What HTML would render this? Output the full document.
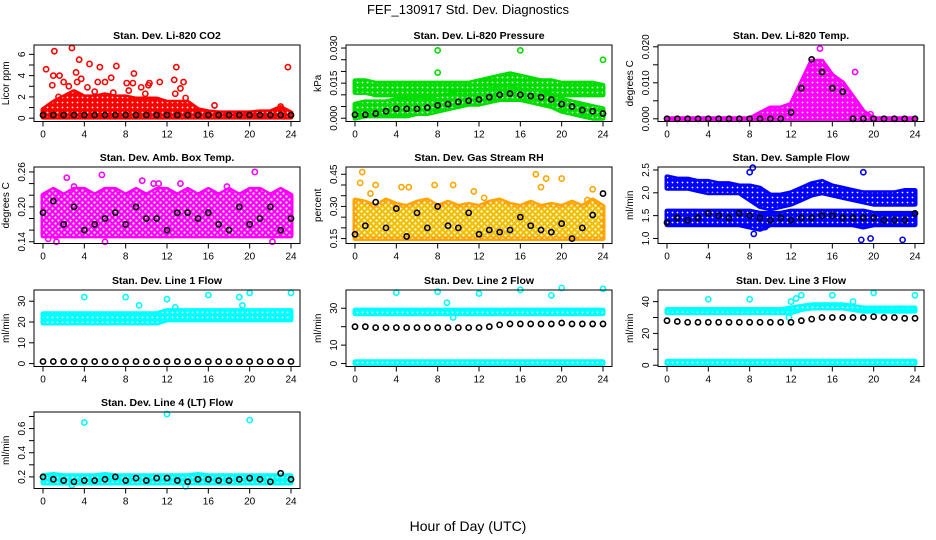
<!DOCTYPE html>
<html><head><meta charset="utf-8"><style>
html,body{margin:0;padding:0;background:#fff;}
svg{display:block;font-family:"Liberation Sans",sans-serif;}
</style></head><body>
<svg id="c" width="936" height="540" viewBox="0 0 936 540">
<defs>
<pattern id="speck" width="5" height="5" patternUnits="userSpaceOnUse"><circle cx="2.5" cy="2.5" r="0.9" fill="#fff"/></pattern>
<pattern id="speck2" width="6" height="6" patternUnits="userSpaceOnUse"><circle cx="1.5" cy="1.5" r="1.1" fill="#fff"/><circle cx="4.5" cy="4.5" r="1.1" fill="#fff"/></pattern>
</defs>
<text x="468" y="14" text-anchor="middle" font-size="13">FEF_130917  Std. Dev. Diagnostics</text>
<text x="468" y="531" text-anchor="middle" font-size="14">Hour of Day (UTC)</text>
</svg>
<script>
const hours=[0,1,2,3,4,5,6,7,8,9,10,11,12,13,14,15,16,17,18,19,20,21,22,23,24];
const xTicks=[0,4,8,12,16,20,24];
// Panel 1 CO2
const co2Lo=[0.1,0.1,0.1,0.1,0.1,0.1,0.1,0.1,0.1,0.1,0.1,0.1,0.1,0.1,0.1,0.1,0.1,0.1,0.1,0.1,0.1,0.1,0.1,0.1,0.1];
const co2Hi=[0.8,1.5,2,2.5,2,2,2.2,2,2,1.8,1.8,1.8,1.5,1.5,1.5,0.8,0.6,0.5,0.5,0.5,0.5,0.6,0.6,1,0.5];
const co2Black=[0.3,0.3,0.3,0.3,0.3,0.3,0.3,0.3,0.3,0.3,0.3,0.3,0.3,0.3,0.3,0.3,0.3,0.3,0.3,0.3,0.3,0.3,0.3,0.3,0.3];
const co2OutX=[0.3,0.9,1,1.1,1.5,1.6,2,2.5,2.8,3.2,3.3,3.5,3.7,4.5,4.3,5,5.3,5.5,6,6.6,7.1,6.8,8.1,8.3,8.8,8.7,9.5,9.9,10.3,10.2,11.3,12.7,12.9,12.8,13.3,13.6,13.8,16.6,23,23.7];
const co2OutY=[4.6,3.1,4,6.3,2,4,3.4,3,6.6,4.3,3.4,5.5,3.7,5.1,2.9,2.5,3.4,4.8,3.4,3.8,4.9,2.4,3.3,2.6,4.2,3.3,2.9,2.3,3.3,3.1,3.4,3.6,4.8,2.3,2.8,3.4,1.9,1.2,1.1,4.8];
// Panel 2 pressure
const prUpLo=[.011,.011,.010,.010,.010,.010,.010,.010,.010,.010,.010,.010,.010,.011,.011,.012,.012,.011,.011,.010,.010,.010,.010,.010,.010];
const prUpHi=[.016,.016,.015,.015,.015,.015,.015,.015,.015,.015,.015,.015,.016,.017,.018,.019,.018,.017,.016,.016,.015,.015,.015,.015,.014];
const prLoLo=[.000,.001,.001,.001,.001,.001,.002,.002,.003,.004,.005,.006,.006,.007,.008,.008,.008,.007,.006,.005,.003,.002,.001,.000,.000];
const prLoHi=[.006,.007,.007,.007,.008,.008,.008,.008,.009,.010,.011,.011,.012,.012,.013,.013,.012,.012,.011,.010,.008,.007,.006,.005,.004];
const prBlack=[.0015,.0015,.002,.003,.004,.004,.004,.0045,.0055,.006,.007,.0075,.008,.009,.010,.0105,.010,.0095,.009,.008,.006,.005,.0035,.003,.002];
const prOutX=[8,8,16,24];
const prOutY=[.029,.0195,.029,.025];
// Panel 3 temp
const tpLo=[0,0,0,0,0,0,0,0,0,0,0,0,0,0,0,0,0,0,0,0,0,0,0,0,0];
const tpHi=[0,0,0,0,0,0,0,0,0,0.0015,0.003,0.003,0.004,0.010,0.016,0.016,0.012,0.010,0.006,0.002,0,0,0,0,0];
const tpBlack=[0,0,0,0,0,0,0,0,0,0,0,0,0.0018,0.0085,0.0165,0.013,0.0085,0.0075,0,0,0,0,0,0,0];
const tpOutX=[14.8,18.2,16.5,19.7];
const tpOutY=[.0195,.013,0,.0013];
// Panel 4 amb box temp
const abLo=[.15,.15,.15,.15,.15,.15,.15,.15,.15,.15,.15,.15,.15,.15,.15,.15,.15,.15,.15,.15,.15,.15,.15,.15,.15];
const abHi=[.22,.23,.22,.23,.23,.22,.23,.23,.22,.23,.22,.23,.23,.22,.23,.22,.23,.22,.23,.22,.23,.23,.22,.23,.22];
const abBlack=[.19,.21,.17,.20,.16,.17,.18,.19,.17,.20,.18,.18,.16,.19,.19,.18,.19,.17,.16,.20,.17,.18,.20,.16,.18];
const abOutX=[2.3,5.7,3,9.6,10.7,11.2,13.3,20.5,17.8,1.2,1.3,6,0.5,22.2];
const abOutY=[.25,.255,.235,.245,.24,.24,.24,.26,.235,.15,.14,.14,.145,.14];
// Panel 5 RH
const rhLo=[.15,.15,.15,.15,.15,.15,.15,.15,.15,.15,.15,.15,.15,.15,.15,.15,.15,.15,.15,.15,.15,.15,.15,.15,.15];
const rhHi=[.33,.32,.30,.33,.31,.30,.32,.33,.30,.32,.30,.31,.30,.32,.33,.31,.30,.32,.30,.31,.30,.32,.30,.33,.30];
const rhBlack=[.17,.21,.32,.2,.29,.16,.27,.2,.30,.21,.2,.27,.17,.19,.18,.19,.25,.21,.19,.18,.22,.15,.20,.26,.36];
const rhOutX=[0.5,0.7,1.5,2,4.5,5.2,7.7,9.5,11.5,12.5,17.5,18.5,18,20,22.5,23];
const rhOutY=[.41,.46,.36,.40,.39,.39,.40,.40,.37,.34,.45,.43,.39,.43,.33,.38];
// Panel 6 sample flow
const sfUpLo=[2.1,2.1,2.1,2.05,2.0,2.0,2.0,2.0,1.85,1.7,1.65,1.7,1.75,1.85,1.95,2.0,1.95,1.9,1.85,1.8,1.75,1.75,1.75,1.75,1.75];
const sfUpHi=[2.35,2.3,2.3,2.25,2.25,2.2,2.2,2.15,2.15,2.1,1.95,1.95,2.0,2.1,2.2,2.25,2.15,2.1,2.05,2.0,2.0,2.0,2.0,2.05,2.05];
const sfLoLo=[1.3,1.3,1.3,1.3,1.3,1.3,1.3,1.3,1.25,1.2,1.3,1.3,1.3,1.3,1.3,1.3,1.3,1.3,1.3,1.25,1.3,1.3,1.3,1.3,1.3];
const sfLoHi=[1.6,1.6,1.6,1.6,1.6,1.6,1.6,1.6,1.6,1.55,1.55,1.55,1.6,1.6,1.6,1.6,1.6,1.6,1.6,1.6,1.55,1.55,1.55,1.55,1.55];
const sfBlack=[1.35,1.45,1.4,1.45,1.55,1.5,1.45,1.55,1.5,1.45,1.4,1.45,1.4,1.45,1.45,1.5,1.5,1.45,1.45,1.45,1.45,1.4,1.4,1.4,1.55];
const sfOutX=[8.3,8,8.4,19,18.8,19.7,22.8,9.5];
const sfOutY=[2.55,2.45,1.1,2.45,0.97,1.0,0.97,1.25];
// Panel 7 line 1
const l1Lo=[19.5,19.5,19.5,19.5,19.5,19.5,19.5,19.5,19.5,19.5,19.5,19.5,21,21,21,21,21,21,21,21,21,21,21,21,21];
const l1Hi=[24,24,24,24,24,24,24,24,24,24,24,24,25.5,25.5,25.5,25.5,25.5,25.5,25.5,25.5,25.5,25.5,25.5,25.5,25.5];
const l1Black=[1,1,1,1,1,1,1,1,1,1,1,1,1,1,1,1,1,1,1,1,1,1,1,1,1];
const l1OutX=[4,8,12,16,19,20,24,9.3,19.3,12.8];
const l1OutY=[32,32,31,33,32,34,34,28,28,27];
// Panel 8 line 2
const l2UpLo=[27,27,27,27,27,27,27,27,27,27,27,27,27,27,27,27,27,27,27,27,27,27,27,27,27];
const l2UpHi=[29,29,29,29,29,29,29,29,29,29,29,29,29,29,29,29,29,29,29,29,29,29,29,29,29];
const l2LoLo=[0,0,0,0,0,0,0,0,0,0,0,0,0,0,0,0,0,0,0,0,0,0,0,0,0];
const l2LoHi=[1,1,1,1,1,1,1,1,1,1,1,1,1,1,1,1,1,1,1,1,1,1,1,1,1];
const l2Black=[20,20,19.5,19.5,19.5,19.5,19.5,19.5,19.5,19.5,19.5,19.5,19.5,20,21,21.5,21.5,21.5,21.5,21.5,22,21.5,21.5,21.5,21.5];
const l2OutX=[4,8,12,16,19,20,24,9.5,8.9];
const l2OutY=[38.5,39,38,40,37,41,40.5,25,33];
// Panel 9 line 3
const l3UpLo=[33,33,33,33,33,33,33,33,33,33,33,33,33,35,36,36,36,36,35,34,34,34,34,34,34];
const l3UpHi=[35,35,35,35,35,35,35,35,35,35,35,35,36,37,38,38,38,38,37,36,36,36,36,36,36];
const l3LoLo=[1,1,1,1,1,1,1,1,1,1,1,1,1,1,1,1,1,1,1,1,1,1,1,1,1];
const l3LoHi=[2.5,2.5,2.5,2.5,2.5,2.5,2.5,2.5,2.5,2.5,2.5,2.5,2.5,2.5,2.5,2.5,2.5,2.5,2.5,2.5,2.5,2.5,2.5,2.5,2.5];
const l3Black=[28,27.5,27,27,27,27,27,27,27,27,27,27,27,28,29,30,30,30,30,30,30.5,30,30,29.5,29.5];
const l3OutX=[4,8,12,12.5,13,16,18,20,24,11.8];
const l3OutY=[41.5,41.5,40,42,44,44,40,45.5,44,30];
// Panel 10 line 4
const l4Lo=[.15,.15,.15,.15,.15,.15,.15,.15,.15,.15,.15,.15,.15,.15,.15,.15,.15,.15,.15,.15,.15,.15,.15,.15,.15];
const l4Hi=[.21,.22,.21,.21,.21,.21,.22,.21,.21,.21,.21,.21,.21,.21,.21,.22,.21,.21,.21,.21,.21,.21,.21,.21,.21];
const l4Black=[.2,.18,.17,.16,.17,.17,.18,.20,.17,.19,.17,.19,.19,.17,.16,.18,.18,.17,.17,.18,.19,.18,.16,.23,.18];
const l4OutX=[4,12,20,13.8,2.8];
const l4OutY=[0.65,0.72,0.67,0.12,0.13];

const svg=document.getElementById('c');
const NS='http://www.w3.org/2000/svg';
function mk(tag,attrs,parent){const e=document.createElementNS(NS,tag);for(const k in attrs)e.setAttribute(k,attrs[k]);(parent||svg).appendChild(e);return e;}

const panels=[
 {title:'Stan. Dev. Li-820 CO2',ylab:'Licor ppm',col:0,row:0,ymin:-0.31,ymax:6.88,ticks:[0,1,2,3,4,5,6],labels:[0,2,4,6],fmt:v=>String(v),color:'#ff0000',
  bands:[[co2Lo,co2Hi]],black:co2Black,ox:co2OutX,oy:co2OutY},
 {title:'Stan. Dev. Li-820 Pressure',ylab:'kPa',col:1,row:0,ymin:-0.0014,ymax:0.0313,ticks:[0,.005,.01,.015,.02,.025,.03],labels:[0,.015,.03],fmt:v=>v.toFixed(3),color:'#00dd00',
  bands:[[prUpLo,prUpHi],[prLoLo,prLoHi]],black:prBlack,ox:prOutX,oy:prOutY},
 {title:'Stan. Dev. Li-820 Temp.',ylab:'degrees C',col:2,row:0,ymin:-0.00075,ymax:0.0205,ticks:[0,.005,.01,.015,.02],labels:[0,.01,.02],fmt:v=>v.toFixed(3),color:'#ff00ff',
  bands:[[tpLo,tpHi]],black:tpBlack,ox:tpOutX,oy:tpOutY},
 {title:'Stan. Dev. Amb. Box Temp.',ylab:'degrees C',col:0,row:1,ymin:0.137,ymax:0.2685,ticks:[.14,.16,.18,.2,.22,.24,.26],labels:[.14,.2,.26],fmt:v=>v.toFixed(2),color:'#ff00ff',speck:'speck2',
  bands:[[abLo,abHi]],black:abBlack,ox:abOutX,oy:abOutY},
 {title:'Stan. Dev. Gas Stream RH',ylab:'percent',col:1,row:1,ymin:0.127,ymax:0.484,ticks:[.15,.2,.25,.3,.35,.4,.45],labels:[.15,.3,.45],fmt:v=>v.toFixed(2),color:'#ffa500',fill:'#f0c000',speck:'speck2',
  bands:[[rhLo,rhHi]],black:rhBlack,ox:rhOutX,oy:rhOutY},
 {title:'Stan. Dev. Sample Flow',ylab:'ml/min',col:2,row:1,ymin:0.89,ymax:2.565,ticks:[1,1.5,2,2.5],labels:[1,1.5,2,2.5],fmt:v=>v.toFixed(1),color:'#0000ff',
  bands:[[sfUpLo,sfUpHi],[sfLoLo,sfLoHi]],black:sfBlack,ox:sfOutX,oy:sfOutY},
 {title:'Stan. Dev. Line 1 Flow',ylab:'ml/min',col:0,row:2,ymin:-1.4,ymax:35.4,ticks:[0,10,20,30],labels:[0,10,20,30],fmt:v=>String(v),color:'#00ffff',
  bands:[[l1Lo,l1Hi]],black:l1Black,ox:l1OutX,oy:l1OutY},
 {title:'Stan. Dev. Line 2 Flow',ylab:'ml/min',col:1,row:2,ymin:-1.6,ymax:39.9,ticks:[0,10,20,30],labels:[0,10,30],fmt:v=>String(v),color:'#00ffff',
  bands:[[l2UpLo,l2UpHi],[l2LoLo,l2LoHi]],black:l2Black,ox:l2OutX,oy:l2OutY},
 {title:'Stan. Dev. Line 3 Flow',ylab:'ml/min',col:2,row:2,ymin:-0.8,ymax:47.3,ticks:[0,10,20,30,40],labels:[0,20,40],fmt:v=>String(v),color:'#00ffff',
  bands:[[l3UpLo,l3UpHi],[l3LoLo,l3LoHi]],black:l3Black,ox:l3OutX,oy:l3OutY},
 {title:'Stan. Dev. Line 4 (LT) Flow',ylab:'ml/min',col:0,row:3,ymin:0.104,ymax:0.737,ticks:[.2,.3,.4,.5,.6,.7],labels:[.2,.4,.6],fmt:v=>v.toFixed(1),color:'#00ffff',
  bands:[[l4Lo,l4Hi]],black:l4Black,ox:l4OutX,oy:l4OutY}
];
const lefts=[34,346,658], tops=[45,167,290,412], W=266, H=76.5;

panels.forEach((p,i)=>{
  const L=lefts[p.col], T=tops[p.row];
  const g=mk('g',{});
  
  
  const xs=v=>L+9+(v/24)*(W-18);
  const ys=v=>T+H-(v-p.ymin)/(p.ymax-p.ymin)*H;
  const t=mk('text',{x:L+W/2,y:T-6,'text-anchor':'middle','font-size':'10.5','font-weight':'bold'},g);
  t.textContent=p.title;
  
  
  const cg=mk('g',{},g);
  
  
  p.bands.forEach(b=>{
    let pts=hours.map((h,k)=>xs(h)+','+ys(b[1][k]));
    pts=pts.concat(hours.slice().reverse().map((h,k)=>xs(h)+','+ys(b[0][hours.length-1-k])));
    const pg=mk('polygon',{points:pts.join(' '),fill:p.fill||p.color,stroke:p.color,'stroke-width':5,'stroke-linejoin':'round'},cg);
    
    
    const sp=mk('polygon',{points:pts.join(' '),fill:'url(#'+(p.speck||'speck')+')',stroke:'none'},cg);
    
    
  });
  p.ox.forEach((x,k)=>{
    const c=mk('circle',{cx:xs(x),cy:ys(p.oy[k]),r:2.6,fill:'none',stroke:p.color,'stroke-width':1.6},cg);
    
    
  });
  hours.forEach((h,k)=>{
    const c=mk('circle',{cx:xs(h),cy:ys(p.black[k]),r:2.6,fill:'none',stroke:'#000','stroke-width':1.6},cg);
    
    
  });
  const box=mk('rect',{x:L,y:T,width:W,height:H,fill:'none',stroke:'#000','stroke-width':1},g);
  
  
  const xl=mk('line',{x1:xs(0),x2:xs(24),y1:T+H,y2:T+H,stroke:'#000'},g);
  
  
  xTicks.forEach(v=>{
    mk('line',{x1:xs(v),x2:xs(v),y1:T+H,y2:T+H+5,stroke:'#000'},g);
    const tl=mk('text',{x:xs(v),y:T+H+16,'text-anchor':'middle','font-size':'10'},g);
    tl.textContent=v;
    
    
  });
  p.ticks.forEach(v=>{
    mk('line',{x1:L-5,x2:L,y1:ys(v),y2:ys(v),stroke:'#000'},g);
  });
  p.labels.forEach(v=>{
    const y=ys(v), x=L-9;
    const tl=mk('text',{x:x,y:y,'text-anchor':'middle','font-size':'10',transform:'rotate(-90 '+x+' '+y+')'},g);
    tl.textContent=p.fmt(v);
    
    
  });
  const yx=L-25, yy=T+H/2;
  const yt=mk('text',{x:yx,y:yy,'text-anchor':'middle','font-size':'10',transform:'rotate(-90 '+yx+' '+yy+')'},g);
  yt.textContent=p.ylab;
  
  
});
</script>
</body></html>
